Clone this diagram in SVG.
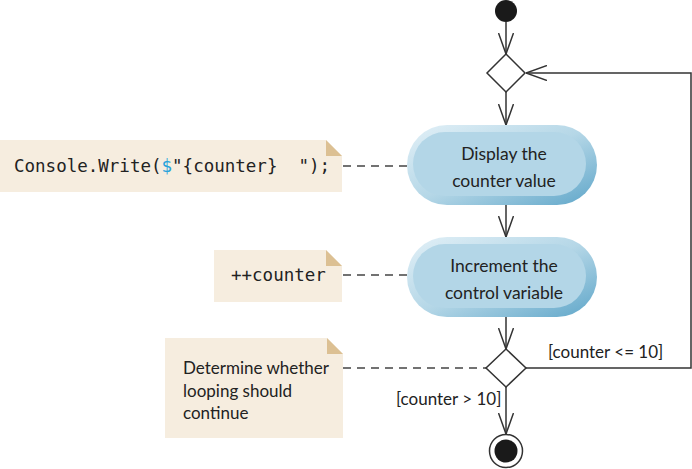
<svg xmlns="http://www.w3.org/2000/svg" width="692" height="469" viewBox="0 0 692 469">
<style>
.ln{stroke:#333;stroke-width:1.5;fill:none}
.dash{stroke:#444;stroke-width:1.5;fill:none;stroke-dasharray:8 6}
.note{fill:#f6eddf}
.fold{fill:#dcc093}
.code{font-family:"DejaVu Sans Mono","Liberation Mono",monospace;font-size:17.5px;fill:#222;white-space:pre}
.txt{font-family:"Lato","Liberation Sans",sans-serif;font-size:17px;fill:#222}
.act{font-family:"Lato","Liberation Sans",sans-serif;font-size:17.5px;fill:#222;text-anchor:middle}
.dia{fill:#fff;stroke:#333;stroke-width:1.5}
</style>
<defs>
<marker id="arr" viewBox="0 0 21 16" markerWidth="21" markerHeight="16" refX="21" refY="8" orient="auto" markerUnits="userSpaceOnUse">
<path d="M0,0.5 L21,8 L0,15.5" stroke="#333" stroke-width="1.5" fill="none"/>
</marker>
<linearGradient id="bev" x1="0" y1="0" x2="1" y2="1">
<stop offset="0" stop-color="#e2f0f7"/>
<stop offset="0.5" stop-color="#b5d7e7"/>
<stop offset="1" stop-color="#5fa6c9"/>
</linearGradient>
</defs>

<g id="connectors">
<line class="ln" x1="506" y1="22" x2="506" y2="54" marker-end="url(#arr)"/>
<line class="ln" x1="506" y1="92" x2="506" y2="125" marker-end="url(#arr)"/>
<line class="ln" x1="506" y1="205" x2="506" y2="237" marker-end="url(#arr)"/>
<line class="ln" x1="506" y1="317" x2="506" y2="349" marker-end="url(#arr)"/>
<line class="ln" x1="506" y1="387" x2="506" y2="434" marker-end="url(#arr)"/>
<polyline class="ln" points="526,368 691,368 691,73 526,73" marker-end="url(#arr)"/>
<line class="dash" x1="343" y1="166" x2="407" y2="166"/>
<line class="dash" x1="343" y1="275" x2="407" y2="275"/>
<line class="dash" x1="343" y1="368" x2="486" y2="368"/>
<text class="txt" x="548" y="358">[counter &lt;= 10]</text>
<text class="txt" x="396" y="405">[counter &gt; 10]</text>
</g>

<g id="start"><circle cx="506" cy="11" r="11" fill="#1a1a1a"/></g>

<g id="merge"><polygon class="dia" points="506,54 525,73 506,92 487,73"/></g>

<g id="display">
<rect x="407" y="125" width="190" height="80" rx="40" fill="url(#bev)"/>
<rect x="413" y="132" width="173" height="64" rx="32" fill="#b3d6e7"/>
<text class="act" x="504" y="160">Display the</text>
<text class="act" x="504" y="187">counter value</text>
</g>

<g id="increment">
<rect x="407" y="237" width="190" height="80" rx="40" fill="url(#bev)"/>
<rect x="413" y="244" width="173" height="64" rx="32" fill="#b3d6e7"/>
<text class="act" x="504" y="272">Increment the</text>
<text class="act" x="504" y="299">control variable</text>
</g>

<g id="decision"><polygon class="dia" points="506,349 526,368 506,387 486,368"/></g>

<g id="end">
<circle cx="506" cy="451" r="16.5" fill="#fff" stroke="#333" stroke-width="1.5"/>
<circle cx="506" cy="451" r="11.5" fill="#1a1a1a"/>
</g>

<g id="note1">
<polygon class="note" points="0,140 326,140 342,156 342,192 0,192"/>
<polygon class="fold" points="326,140 342,156 326,156"/>
<text class="code" x="14" y="172" xml:space="preserve">Console.Write(<tspan fill="#29a3dc">$</tspan>"{counter}  ");</text>
</g>

<g id="note2">
<polygon class="note" points="214,250 326,250 342,266 342,302 214,302"/>
<polygon class="fold" points="326,250 342,266 326,266"/>
<text class="code" x="231" y="281">++counter</text>
</g>

<g id="note3">
<polygon class="note" points="165,338 327,338 343,354 343,438 165,438"/>
<polygon class="fold" points="327,338 343,354 327,354"/>
<text class="txt" x="183" y="374">Determine whether</text>
<text class="txt" x="183" y="397">looping should</text>
<text class="txt" x="183" y="419">continue</text>
</g>
</svg>
